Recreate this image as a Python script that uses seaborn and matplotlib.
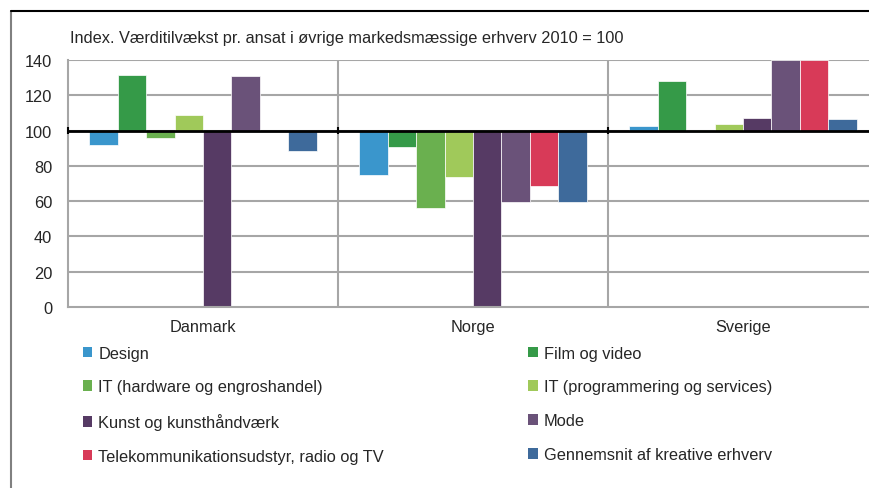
import matplotlib.pyplot as plt
import pandas as pd
import seaborn as sns
from matplotlib.lines import Line2D
from matplotlib.patches import Patch

countries = ["Danmark", "Norge", "Sverige"]
sectors = [
    "Design",
    "Film og video",
    "IT (hardware og engroshandel)",
    "IT (programmering og services)",
    "Kunst og kunsthåndværk",
    "Mode",
    "Telekommunikationsudstyr, radio og TV",
    "Gennemsnit af kreative erhverv",
]
colors = ["#3a96cc", "#359a48", "#6ab04f", "#a0c95a", "#563a64", "#6a5279", "#d83a58", "#3e6a9b"]

danmark = [92, 131.5, 95.6, 109, 0, 130.8, None, 88.4]
norge = [74.8, 90.7, 56.3, 73.5, 0, 59.7, 68.6, 59.3]
sverige = [102.6, 128.1, 100.3, 103.6, 107.1, 140, 140, 106.6]

title = "Index. Værditilvækst pr. ansat i øvrige markedsmæssige erhverv 2010 = 100"
yticks = [0, 20, 40, 60, 80, 100, 120, 140]

rows = []
for country, vals in zip(countries, [danmark, norge, sverige]):
    for sector, v in zip(sectors, vals):
        if v is not None:
            rows.append({"land": country, "sektor": sector, "diff": v - 100})
df = pd.DataFrame(rows)

sns.set_style("white")
plt.rcParams["font.family"] = ["Liberation Sans Narrow", "Liberation Sans", "DejaVu Sans"]
fs = 11.8

fig = plt.figure(figsize=(8.69, 4.89), dpi=100)
ax = fig.add_axes([68 / 869, 1 - 308 / 489, 810 / 869, 247 / 489])

# bars hang from the 100 line, so heights are value - 100
sns.barplot(
    data=df, x="land", y="diff", hue="sektor",
    order=countries, hue_order=sectors, palette=colors, saturation=1,
    width=0.844, gap=0, bottom=100, legend=False,
    edgecolor="white", linewidth=0.5,
    ax=ax,
)

ax.set_xlim(-0.5, 2.5)
ax.set_ylim(0, 140)
ax.set_yticks(yticks)
ax.set_yticklabels([str(t) for t in yticks], fontsize=fs)
ax.tick_params(axis="y", length=0, pad=11.5)
ax.tick_params(axis="x", length=0, pad=9, labelsize=fs)
ax.set_xlabel("")
ax.set_ylabel("")

for t in yticks[1:]:
    ax.axhline(t, color="#a6a6a6", lw=1.5, zorder=0)
ax.vlines([0.5, 1.5], 0, 140, color="#a6a6a6", lw=1.5, zorder=0)
for side in ["top", "right"]:
    ax.spines[side].set_visible(False)
for side in ["left", "bottom"]:
    ax.spines[side].set_color("#a6a6a6")
    ax.spines[side].set_linewidth(1.5)

ax.axhline(100, color="black", lw=2, zorder=5)
ax.vlines([-0.5, 0.5, 1.5], 98, 102, color="black", lw=1.5, zorder=5, clip_on=False)

# legend is filled row by row in the reference
order = [0, 2, 4, 6, 1, 3, 5, 7]
handles = [Patch(facecolor=colors[i], edgecolor="none") for i in order]
labels = [sectors[i] for i in order]
fig.legend(
    handles, labels, ncol=2, loc="upper left",
    bbox_to_anchor=(76 / 869, 1 - 340 / 489),
    frameon=False, fontsize=fs,
    handlelength=0.6, handleheight=0.6, handletextpad=0.35,
    labelspacing=1.15, columnspacing=8.8, borderaxespad=0,
)

fig.text(70 / 869, 1 - 38 / 489, title, fontsize=fs, va="center", ha="left")

fig.add_artist(Line2D([11 / 869, 11 / 869], [0, 1 - 12 / 489], color="#808080", lw=1.5))
fig.add_artist(Line2D([11 / 869, 1], [1 - 12 / 489, 1 - 12 / 489], color="black", lw=1.5))

fig.savefig("out.png", dpi=100)
